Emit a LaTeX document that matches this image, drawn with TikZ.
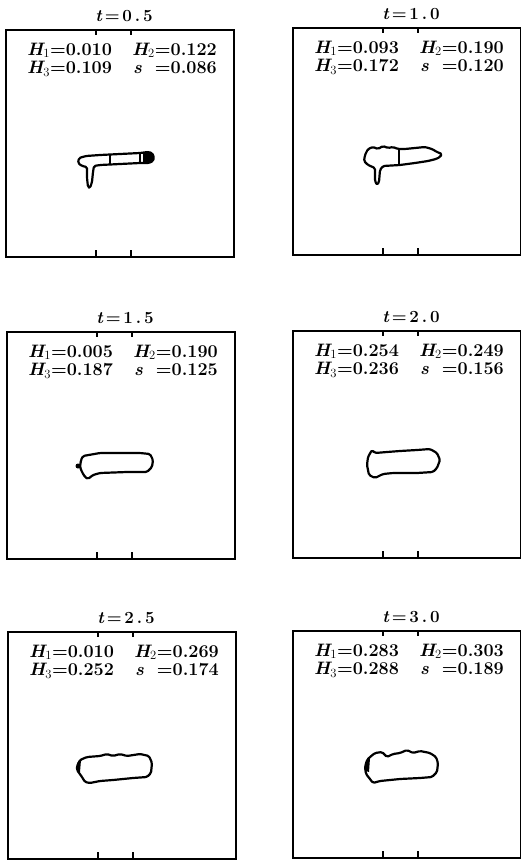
\documentclass[tikz,border=0pt]{standalone}
\tikzset{
  panelbox/.style={line width=1.7pt},
  paneltick/.style={line width=1.4pt},
  blob/.style={line width=2.2pt,line join=round,rounded corners=1.5pt},
  titletext/.style={anchor=base,inner sep=0pt,font=\fontsize{17}{17}\selectfont\bfseries},
  valtext/.style={inner sep=0pt,text height=12pt,text depth=2pt,
    font=\fontsize{18}{18}\selectfont\bfseries}
}
\newcommand{\Hsub}[1]{{\itshape H}\textsubscript{\mdseries#1}}

\begin{document}
\begin{tikzpicture}[x=1pt,y=-1pt]
  \useasboundingbox (0,0) rectangle (520,860);
  % six frames: left, top, t, H1, H2, H3, s
  \foreach \i/\px/\py/\tv/\ta/\ha/\hb/\hc/\sv in {
      a/6/30/0/5/0.010/0.122/0.109/0.086,
      b/293/28/1/0/0.093/0.190/0.172/0.120,
      c/7/332/1/5/0.005/0.190/0.187/0.125,
      d/293/331/2/0/0.254/0.249/0.236/0.156,
      e/8/632/2/5/0.010/0.269/0.252/0.174,
      f/293/631/3/0/0.283/0.303/0.288/0.189}{
    \draw[panelbox] (\px,\py) rectangle ++(228,227);
    \draw[paneltick] (\px+90,\py) -- ++(0,5) (\px+125,\py) -- ++(0,5);
    \draw[paneltick] (\px+90,\py+227) -- ++(0,-7) (\px+125,\py+227) -- ++(0,-7);
    \node[titletext] (title-\i) at (\px+118,\py-9)
      {{\itshape t}\,=\,\tv\,.\,\ta};
    \node[valtext,anchor=base west] (h1-\i) at (\px+21,\py+25) {\Hsub{1}=\ha};
    \node[valtext,anchor=base west] (h3-\i) at (\px+21,\py+43.5) {\Hsub{3}=\hc};
    \node[valtext,anchor=base east] (h2-\i) at (\px+211,\py+25) {\Hsub{2}=\hb};
    \node[valtext,anchor=base west] (slabel-\i) at (\px+127,\py+43.5) {\itshape s};
    \node[valtext,anchor=base east] (sval-\i) at (\px+211,\py+43.5) {=\sv};
  }
  % t=0.5
  \draw[blob] (79,158) -- (86,156) -- (100,155) -- (120,154) -- (140,153) -- (148,152)
    -- (152,153) -- (154,157) -- (153,161) -- (149,163) -- (140,163) -- (120,164)
    -- (100,165) -- (94,166) -- (93,172) -- (92,182) -- (90,188) -- (88,187)
    -- (87,178) -- (87,167) -- (82,166) -- (78,163) -- cycle;
  \draw[blob] (110,154.5) -- (110,164.5) (140,153) -- (140,163);
  \fill (143,152.5) -- (148,152) -- (152,153) -- (154,157) -- (153,161) -- (149,163)
    -- (143,163) -- cycle;
  % t=1.0
  \draw[blob] (365,155) -- (368,149) -- (373,147) -- (378,149) -- (383,146) -- (388,148)
    -- (393,147) -- (398,149) -- (405,149) -- (415,148) -- (425,147) -- (432,149)
    -- (437,152) -- (442,154) -- (440,157) -- (436,159) -- (428,161) -- (415,163)
    -- (400,165) -- (383,166) -- (380,170) -- (379,182) -- (377,185) -- (375,181)
    -- (375,168) -- (368,165) -- (364,161) -- cycle;
  \draw[blob] (399,149) -- (399,165);
  % t=1.5
  \draw[blob] (81,460) -- (83,456) -- (100,453) -- (140,453) -- (150,454) -- (153,460)
    -- (152,467) -- (147,472) -- (127,472) -- (100,473) -- (93,475) -- (88,479)
    -- (85,477) -- (82,472) -- (80,467) -- cycle;
  \fill (78,466) circle (2.5);
  % t=2.0
  \draw[blob] (368,457) -- (372,450) -- (375,453) -- (387,452) -- (400,451) -- (417,450)
    -- (430,449) -- (437,453) -- (440,460) -- (437,468) -- (433,472) -- (417,473)
    -- (393,473) -- (383,474) -- (375,478) -- (369,475) -- (367,465) -- cycle;
  % t=2.5
  \draw[blob] (77,766) -- (80,760) -- (87,757) -- (100,756) -- (107,754) -- (113,756)
    -- (120,754) -- (127,756) -- (140,754) -- (149,756) -- (152,763) -- (151,773)
    -- (147,777) -- (133,778) -- (113,780) -- (100,781) -- (90,783) -- (85,782)
    -- (82,777) -- (77,770) -- cycle;
  \fill (77,763) -- (81,760) -- (80,772) -- (77,771) -- cycle;
  % t=3.0
  \draw[blob] (367,760) -- (370,757) -- (375,753) -- (382,752) -- (387,757) -- (393,754)
    -- (400,753) -- (407,750) -- (413,753) -- (420,751) -- (430,753) -- (436,757)
    -- (438,763) -- (437,772) -- (432,777) -- (420,778) -- (400,779) -- (380,781)
    -- (373,783) -- (370,779) -- (366,774) -- (365,767) -- cycle;
  \fill (366,762) -- (370,758) -- (369,772) -- (366,771) -- cycle;
\end{tikzpicture}
\end{document}
